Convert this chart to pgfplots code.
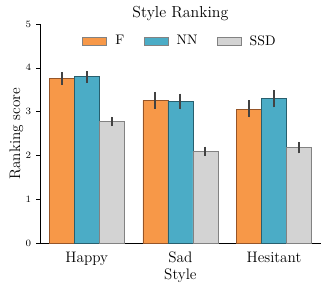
\documentclass[border=0pt]{standalone}
\usepackage{pgfplots}
\pgfplotsset{compat=1.18}
\usepackage{pgfplotstable}
\definecolor{cF}{RGB}{247,152,72}
\definecolor{cFe}{RGB}{150,85,40}
\definecolor{cN}{RGB}{75,172,198}
\definecolor{cNe}{RGB}{40,95,110}
\definecolor{cS}{RGB}{211,211,211}
\definecolor{cSe}{RGB}{130,130,130}
\definecolor{cErr}{RGB}{66,66,66}
\pgfplotstableread{
x y ep em
0 3.76 0.14 0.14
1 3.26 0.19 0.19
2 3.06 0.20 0.19
}\tF
\pgfplotstableread{
x y ep em
0 3.80 0.13 0.14
1 3.24 0.17 0.19
2 3.30 0.20 0.20
}\tN
\pgfplotstableread{
x y ep em
0 2.78 0.10 0.11
1 2.09 0.11 0.10
2 2.18 0.13 0.13
}\tS
\begin{document}
\begin{tikzpicture}
\useasboundingbox (-28.9pt,-35.3pt) rectangle (211.1pt,175.7pt);
\begin{axis}[
  at={(0,0)}, anchor=south west,
  scale only axis, width=203pt, height=158.3pt,
  xmin=-0.5, xmax=2.5, ymin=0, ymax=5,
  ybar=0pt, bar width=0.2667,
  axis lines*=left,
  axis line style={line width=0.6pt},
  xtick={0,1,2}, xticklabels={Happy,Sad,Hesitant},
  x tick style={draw=none},
  ytick={0,1,2,3,4,5},
  tick align=outside, major tick length=2.8pt,
  y tick style={line width=0.5pt, black},
  tick label style={font=\fontsize{7.5}{9}\selectfont},
  xticklabel style={font=\fontsize{11}{13}\selectfont},
  xlabel={Style}, ylabel={Ranking score},
  label style={font=\fontsize{11}{13}\selectfont},
  xlabel style={yshift=4pt},
  ylabel style={yshift=-5pt},
  title={Style Ranking},
  title style={font=\fontsize{11.5}{13}\selectfont, yshift=-7pt},
  legend style={at={(0.5,0.975)}, anchor=north, draw=none, fill=none,
    legend columns=3, font=\normalsize,
    /tikz/every odd column/.append style={column sep=4pt},
    /tikz/every even column/.append style={column sep=12pt}},
  legend image code/.code={\draw[#1,draw=cSe] (0pt,-2.9pt) rectangle (17.4pt,2.9pt);},
  error bars/y dir=both, error bars/y explicit,
  error bars/error mark=none,
  error bars/error bar style={line width=1.4pt, cErr},
]
\addplot[fill=cF, draw=cFe, line width=0.4pt]
  table[x=x, y=y, y error plus=ep, y error minus=em]{\tF};
\addlegendentry{F}
\addplot[fill=cN, draw=cNe, line width=0.4pt]
  table[x=x, y=y, y error plus=ep, y error minus=em]{\tN};
\addlegendentry{NN}
\addplot[fill=cS, draw=cSe, line width=0.4pt]
  table[x=x, y=y, y error plus=ep, y error minus=em]{\tS};
\addlegendentry{SSD}
\end{axis}
\end{tikzpicture}
\end{document}
